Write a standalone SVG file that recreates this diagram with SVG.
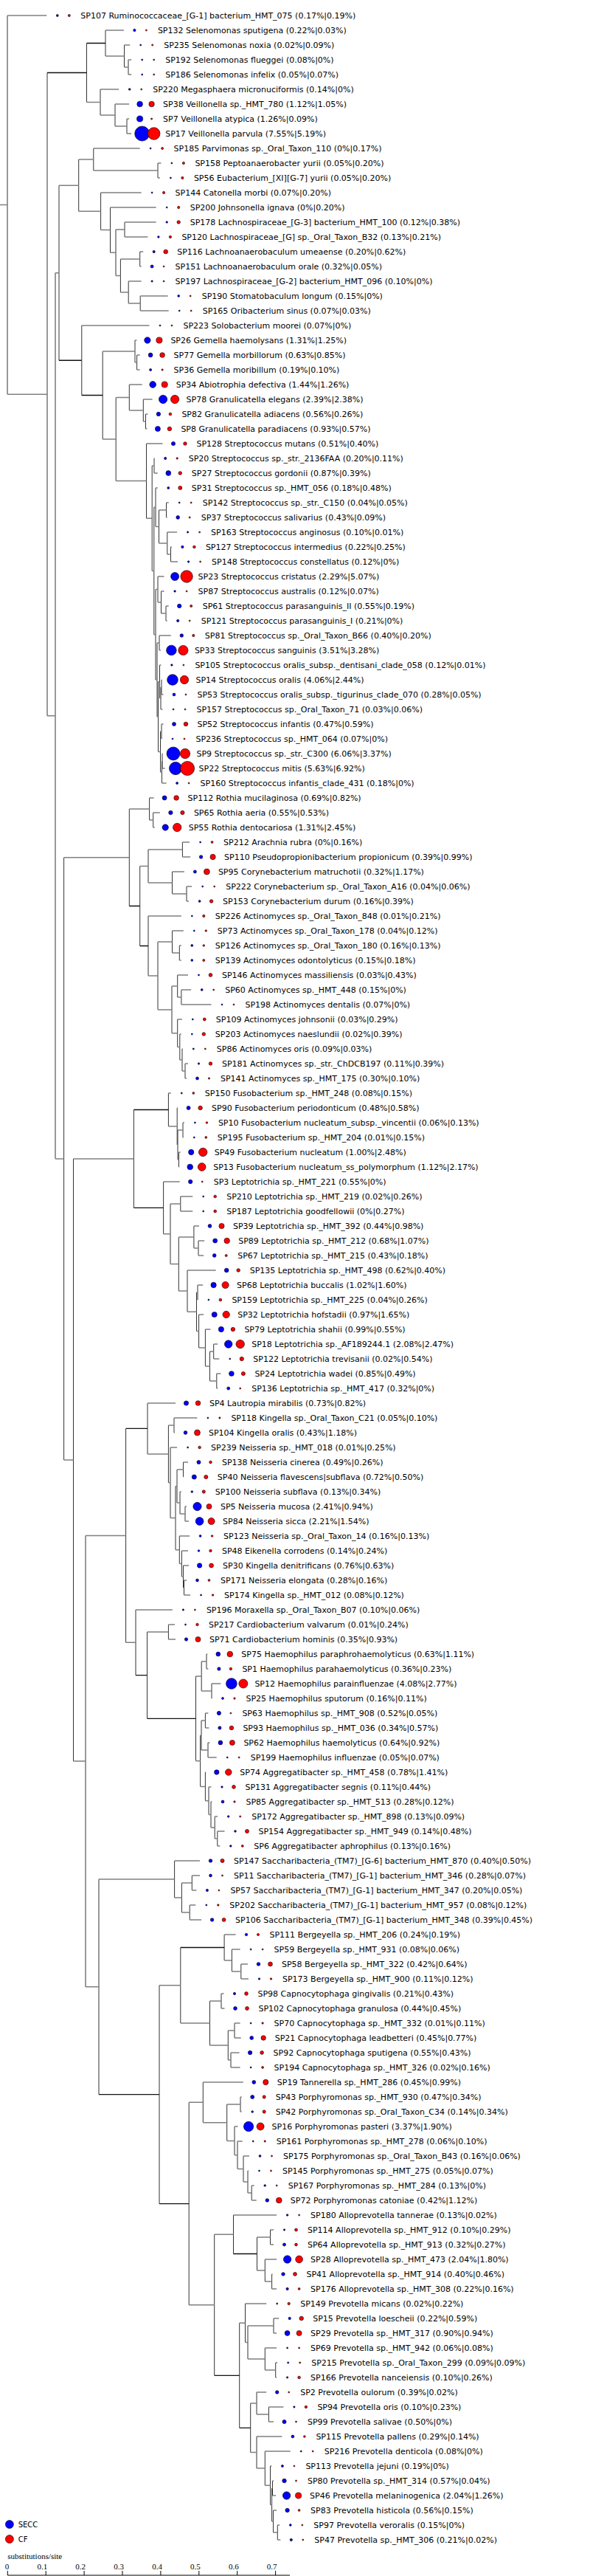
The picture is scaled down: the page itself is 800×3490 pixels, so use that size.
<svg xmlns="http://www.w3.org/2000/svg" width="800" height="3490" viewBox="0 0 800 3490">
<style>
.hz{fill:none;stroke:#808080;stroke-width:1.5}
.hk{fill:none;stroke:#111;stroke-width:1.3}
.vt{fill:none;stroke:#333;stroke-width:1}
.b{fill:#0000ff;stroke:#000;stroke-width:0.6}
.r{fill:#ff0000;stroke:#000;stroke-width:0.6}
text{font-family:"DejaVu Sans","Liberation Sans",sans-serif;font-size:11px;fill:#000}
.lg{font-size:10px}
.sc{font-family:"Liberation Serif","DejaVu Serif",serif;fill:#000}
</style>
<rect width="800" height="3490" fill="#fff"/>
<g id="connectors">
<path class="vt" d="M10 21V534.15M64 98.5V969.8M117.5 58.5V138.5M143 41V76M168.5 61V91M174 81V101M136 121V156M156 141V171M172 161V181M75 369.7V1569.9M80 251.2V488.25M106.7 216V286.3M126.8 201V231M214 221V241M136.6 261V311.6M149.5 281V342.25M157 311V373.5M169 301V321M163.4 351V396M189.7 341V361M174.2 381V411M190.2 401V421M110.8 441V535.5M139.2 476V595.05M183 461V491M185.6 481V501M157.2 538.5V651.6M175.3 521V556M194.3 541V571M197.5 561V581M198.5 601V702.25M206.2 631V773.5M209 621V641M208.8 687.25V859.75M211 661V713.5M215.5 691V736M225.5 681V701M226.8 721V751M231.5 741V761M211 798.5V921M214 781V816M218.5 801V831M225 821V841M213 871V971M216 861V881M214.5 923.5V1018.5M216.5 901V946M218 931V961M219 921V941M217.5 991V1046M219 981V1001M219.5 1031V1061M220 1021V1041M86.6 1161.75V1978M175.3 1096V1227.5M202.6 1081V1111M207.7 1101V1121M189.7 1173.5V1281.5M201 1151V1196M247.4 1141V1161M233.5 1181V1211M253 1201V1221M201 1241V1321.9M214 1276V1367.9M233.5 1261V1291M243.3 1281V1301M233 1336V1399.75M240.7 1321V1351M245.9 1341V1361M240.7 1381V1418.5M243.8 1401V1436M247 1421V1451M251 1441V1461M99.5 1569.95V2386.1M181.4 1503.5V1636.4M228.4 1481V1526M240.2 1501V1551M241 1531V1571M248 1521V1541M242.5 1561V1581M221.6 1601V1671.8M231 1631V1712.6M244.8 1621V1641M242.3 1676V1749.1M262.9 1661V1691M269 1681V1701M254 1721V1777.25M266.5 1751V1803.5M268 1741V1761M269.6 1781V1826M278.4 1801V1851M284.5 1831V1871M289.7 1821V1841M293.8 1861V1881M116 2080.4V2691.85M170.6 1935.45V2225.3M200 1901V1969.9M228.4 1931V2008.8M236 1921V1941M231 1961V2056.6M238 2013.5V2099.75M240 1991V2036M248.5 1981V2001M244 2021V2051M251 2041V2061M243.3 2081V2118.5M246.4 2101V2136M248.5 2121V2151M249.5 2141V2161M184 2181V2269.7M199.5 2211V2328.3M228.4 2201V2221M265.5 2271V2385.7M273.2 2251V2291M280 2241V2261M287 2281V2301M271.6 2351V2420.4M273 2331V2371M278.4 2321V2341M282 2361V2381M278.4 2401V2439.75M283 2421V2458.5M286 2441V2476M291.2 2461V2491M294.8 2481V2501M134 2546V2837.7M236.6 2521V2571M246.4 2551V2591M260.3 2541V2561M257.2 2581V2601M216 2689.75V2985.6M244.8 2638.5V2741M304.1 2621V2656M314.4 2641V2671M326.8 2661V2681M284.5 2711V2771M300 2701V2721M309.3 2751V2791M318 2741V2761M313 2781V2801M256.2 2848.35V3122.8M275.3 2821V2875.7M307.7 2851V2900.4M326 2841V2861M318 2881V2919.75M322 2901V2938.5M330 2921V2956M336 2941V2971M341.2 2961V2981M290.7 3027.25V3218.3M316.5 3001V3053.5M348.5 3031V3076M366.5 3021V3041M359.3 3061V3091M368.6 3081V3101M324.7 3147.25V3289.3M332.5 3121V3173.5M336 3151V3196M371 3141V3161M359.3 3181V3211M373.7 3201V3221M339.7 3256V3322.6M348 3241V3271M364.4 3261V3281M348 3301V3344.1M359.3 3321V3367.25M366.5 3341V3393.5M368.6 3371V3416M369.5 3361V3381M370.5 3401V3431M376.3 3421V3441"/>
<path class="hk" d="M64 98.5H117.5M117.5 58.5H143M80 488.25H110.8M110.8 535.5H139.2M175.3 1227.5H189.7M189.7 1281.5H201M181.4 1503.5H228.4M181.4 1636.4H221.6M170.6 1935.45H200M184 2269.7H199.5M199.5 2328.3H265.5M134 2837.7H216M216 2985.6H256.2M244.8 2638.5H304.1M290.7 3218.3H324.7M316.5 3053.5H348.5M324.7 3289.3H339.7"/>
<path class="hz" d="M0 277.6H10M10 21H63.3M10 534.15H64M64 969.8H75M117.5 138.5H136M143 41H167.9M143 76H168.5M168.5 61H176.2M168.5 91H174M174 81H178.2M174 101H178.2M136 121H161.2M136 156H156M156 141H175.1M156 171H172M172 161H175.1M172 181H178.2M75 369.7H80M75 1569.9H86.6M80 251.2H106.7M106.7 216H126.8M106.7 286.3H136.6M126.8 201H189.6M126.8 231H214M214 221H218.4M214 241H216.9M136.6 261H191.6M136.6 311.6H149.5M149.5 281H211.7M149.5 342.25H157M157 311H169M157 373.5H163.4M169 301H211.7M169 321H200.4M163.4 351H189.7M163.4 396H174.2M189.7 341H194.2M189.7 361H191.6M174.2 381H191.6M174.2 411H190.2M190.2 401H227.7M190.2 421H228.7M110.8 441H202.5M139.2 476H183M139.2 595.05H157.2M183 461H185.4M183 491H185.6M185.6 481H189.6M185.6 501H189.6M157.2 538.5H175.3M157.2 651.6H198.5M175.3 521H192.7M175.3 556H194.3M194.3 541H206.6M194.3 571H197.5M197.5 561H200.4M197.5 581H199.4M198.5 601H220.5M198.5 702.25H206.2M206.2 631H209M206.2 773.5H208.8M209 621H209.7M209 641H213.8M208.8 687.25H211M208.8 859.75H211M211 661H213.8M211 713.5H215.5M215.5 691H225.5M215.5 736H226.8M225.5 681H228.7M225.5 701H226.7M226.8 721H240.1M226.8 751H231.5M231.5 741H232.9M231.5 761H241.1M211 798.5H214M211 921H213M214 781H222.6M214 816H218.5M218.5 801H222.6M218.5 831H225M225 821H228.7M225 841H226.7M213 871H216M213 971H214.5M216 861H231.8M216 881H217.9M214.5 923.5H216.5M214.5 1018.5H217.5M216.5 901H218.4M216.5 946H218M218 931H219M218 961H220.5M219 921H219.5M219 941H221.5M217.5 991H219M217.5 1046H219.5M219 981H221.5M219 1001H219.5M219.5 1031H220M219.5 1061H225.6M220 1021H220.5M220 1041H223.6M86.6 1161.75H175.3M86.6 1978H99.5M175.3 1096H202.6M202.6 1081H208.6M202.6 1111H207.7M207.7 1101H216.9M207.7 1121H209.7M189.7 1173.5H201M201 1151H247.4M201 1196H233.5M247.4 1141H257.1M247.4 1161H258.1M233.5 1181H249.9M233.5 1211H253M253 1201H260.2M253 1221H256.1M201 1241H245.8M201 1321.9H214M214 1276H233.5M214 1367.9H233M233.5 1261H248.8M233.5 1291H243.3M243.3 1281H245.8M243.3 1301H245.8M233 1336H240.7M233 1399.75H240.7M240.7 1321H255M240.7 1351H245.9M245.9 1341H259.2M245.9 1361H286.5M240.7 1381H246.8M240.7 1418.5H243.8M243.8 1401H245.8M243.8 1436H247M247 1421H247.8M247 1451H251M251 1441H255M251 1461H253M99.5 1569.95H181.4M99.5 2386.1H116M228.4 1481H231.8M228.4 1526H240.2M240.2 1501H241.1M240.2 1551H241M241 1531H248M241 1571H242.5M248 1521H249.9M248 1541H248.8M242.5 1561H244.7M242.5 1581H243.2M221.6 1601H243.7M221.6 1671.8H231M231 1631H244.8M231 1712.6H242.3M244.8 1621H261.2M244.8 1641H261.2M242.3 1676H262.9M242.3 1749.1H254M262.9 1661H270M262.9 1691H269M269 1681H277.2M269 1701H276.2M254 1721H292.7M254 1777.25H266.5M266.5 1751H268M266.5 1803.5H269.6M268 1741H275.1M268 1761H268.4M269.6 1781H276.2M269.6 1826H278.4M278.4 1801H285.4M278.4 1851H284.5M284.5 1831H289.7M284.5 1871H293.8M289.7 1821H295.2M289.7 1841H297.3M293.8 1861H299.4M293.8 1881H295.2M116 2080.4H170.6M116 2691.85H134M170.6 2225.3H184M200 1901H238M200 1969.9H228.4M228.4 1931H236M228.4 2008.8H231M236 1921H267.4M236 1941H237M231 1961H240.1M231 2056.6H238M238 2013.5H240M238 2099.75H243.3M240 1991H248.5M240 2036H244M248.5 1981H255M248.5 2001H248.8M244 2021H245.8M244 2051H251M251 2041H253M251 2061H256.1M243.3 2081H257.1M243.3 2118.5H246.4M246.4 2101H255M246.4 2136H248.5M248.5 2121H256.1M248.5 2151H249.5M249.5 2141H253M249.5 2161H258.1M184 2181H233.9M199.5 2211H228.4M228.4 2201H237M228.4 2221H238M265.5 2271H273.2M265.5 2385.7H271.6M273.2 2251H280M273.2 2291H287M280 2241H281.3M280 2261H282.4M287 2281H299.4M287 2301H287.5M271.6 2351H273M271.6 2420.4H278.4M273 2331H278.4M273 2371H282M278.4 2321H282.4M278.4 2341H283.4M282 2361H284.4M282 2381H293.7M278.4 2401H279.3M278.4 2439.75H283M283 2421H286.5M283 2458.5H286M286 2441H287.5M286 2476H291.2M291.2 2461H295.2M291.2 2491H294.8M294.8 2481H304.5M294.8 2501H298.3M134 2546H236.6M236.6 2521H271M236.6 2571H246.4M246.4 2551H260.3M246.4 2591H257.2M260.3 2541H271M260.3 2561H266.4M257.2 2581H265.3M257.2 2601H273.1M216 2689.75H244.8M244.8 2741H284.5M304.1 2621H319.5M304.1 2656H314.4M314.4 2641H325.6M314.4 2671H326.8M326.8 2661H336M326.8 2681H337M284.5 2711H300M284.5 2771H309.3M300 2701H303.5M300 2721H304.5M309.3 2751H318M309.3 2791H313M318 2741H325.6M318 2761H326.7M313 2781H324.6M313 2801H325.6M256.2 2848.35H275.3M256.2 3122.8H290.7M275.3 2821H329.8M275.3 2875.7H307.7M307.7 2851H326M307.7 2900.4H318M326 2841H327.7M326 2861H327.7M318 2881H322.6M318 2919.75H322M322 2901H328.7M322 2938.5H330M330 2921H338M330 2956H336M336 2941H337M336 2971H341.2M341.2 2961H344.7M341.2 2981H347.8M290.7 3027.25H316.5M316.5 3001H375.1M348.5 3031H366.5M348.5 3076H359.3M366.5 3021H371M366.5 3041H371M359.3 3061H375.1M359.3 3091H368.6M368.6 3081H369.5M368.6 3101H375.1M324.7 3147.25H332.5M332.5 3121H361.2M332.5 3173.5H336M336 3151H371M336 3196H359.3M371 3141H378.2M371 3161H375.1M359.3 3181H375.1M359.3 3211H373.7M373.7 3201H376.2M373.7 3221H375.1M339.7 3256H348M339.7 3322.6H348M348 3241H361.2M348 3271H364.4M364.4 3261H384.4M364.4 3281H371M348 3301H382.4M348 3344.1H359.3M359.3 3321H393.7M359.3 3367.25H366.5M366.5 3341H368.4M366.5 3393.5H368.6M368.6 3371H369.5M368.6 3416H370.5M369.5 3361H371M369.5 3381H374.1M370.5 3401H375.1M370.5 3431H376.3M376.3 3421H379.3M376.3 3441H380.3"/>
</g>
<g id="leaves">
<g id="SP107"><circle class="b" cx="77.8" cy="21" r="1.5"/><circle class="r" cx="93.8" cy="21" r="1.59"/><text x="109.3" y="25">SP107 Ruminococcaceae_[G-1] bacterium_HMT_075 (0.17%|0.19%)</text></g>
<g id="SP132"><circle class="b" cx="182.4" cy="41" r="1.71"/><circle class="r" cx="198.4" cy="41" r="1"/><text x="213.9" y="45">SP132 Selenomonas sputigena (0.22%|0.03%)</text></g>
<g id="SP235"><circle class="b" cx="190.7" cy="61" r="1"/><circle class="r" cx="206.7" cy="61" r="1.1"/><text x="222.2" y="65">SP235 Selenomonas noxia (0.02%|0.09%)</text></g>
<g id="SP192"><circle class="b" cx="192.7" cy="81" r="1.03"/><circle class="r" cx="208.7" cy="81" r="1"/><text x="224.2" y="85">SP192 Selenomonas flueggei (0.08%|0%)</text></g>
<g id="SP186"><circle class="b" cx="192.7" cy="101" r="1"/><circle class="r" cx="208.7" cy="101" r="1"/><text x="224.2" y="105">SP186 Selenomonas infelix (0.05%|0.07%)</text></g>
<g id="SP220"><circle class="b" cx="175.7" cy="121" r="1.37"/><circle class="r" cx="191.7" cy="121" r="1"/><text x="207.2" y="125">SP220 Megasphaera micronuciformis (0.14%|0%)</text></g>
<g id="SP38"><circle class="b" cx="189.6" cy="141" r="3.86"/><circle class="r" cx="205.6" cy="141" r="3.74"/><text x="221.1" y="145">SP38 Veillonella sp._HMT_780 (1.12%|1.05%)</text></g>
<g id="SP7"><circle class="b" cx="189.6" cy="161" r="4.1"/><circle class="r" cx="205.6" cy="161" r="1.1"/><text x="221.1" y="165">SP7 Veillonella atypica (1.26%|0.09%)</text></g>
<g id="SP17"><circle class="b" cx="192.7" cy="181" r="10.03"/><circle class="r" cx="208.7" cy="181" r="8.32"/><text x="224.2" y="185">SP17 Veillonella parvula (7.55%|5.19%)</text></g>
<g id="SP185"><circle class="b" cx="204.1" cy="201" r="1"/><circle class="r" cx="220.1" cy="201" r="1.5"/><text x="235.6" y="205">SP185 Parvimonas sp._Oral_Taxon_110 (0%|0.17%)</text></g>
<g id="SP158"><circle class="b" cx="232.9" cy="221" r="1"/><circle class="r" cx="248.9" cy="221" r="1.63"/><text x="264.4" y="225">SP158 Peptoanaerobacter yurii (0.05%|0.20%)</text></g>
<g id="SP56"><circle class="b" cx="231.4" cy="241" r="1"/><circle class="r" cx="247.4" cy="241" r="1.63"/><text x="262.9" y="245">SP56 Eubacterium_[XI][G-7] yurii (0.05%|0.20%)</text></g>
<g id="SP144"><circle class="b" cx="206.1" cy="261" r="1"/><circle class="r" cx="222.1" cy="261" r="1.63"/><text x="237.6" y="265">SP144 Catonella morbi (0.07%|0.20%)</text></g>
<g id="SP200"><circle class="b" cx="226.2" cy="281" r="1"/><circle class="r" cx="242.2" cy="281" r="1.63"/><text x="257.7" y="285">SP200 Johnsonella ignava (0%|0.20%)</text></g>
<g id="SP178"><circle class="b" cx="226.2" cy="301" r="1.26"/><circle class="r" cx="242.2" cy="301" r="2.25"/><text x="257.7" y="305">SP178 Lachnospiraceae_[G-3] bacterium_HMT_100 (0.12%|0.38%)</text></g>
<g id="SP120"><circle class="b" cx="214.9" cy="321" r="1.32"/><circle class="r" cx="230.9" cy="321" r="1.67"/><text x="246.4" y="325">SP120 Lachnospiraceae_[G] sp._Oral_Taxon_B32 (0.13%|0.21%)</text></g>
<g id="SP116"><circle class="b" cx="208.7" cy="341" r="1.63"/><circle class="r" cx="224.7" cy="341" r="2.87"/><text x="240.2" y="345">SP116 Lachnoanaerobaculum umeaense (0.20%|0.62%)</text></g>
<g id="SP151"><circle class="b" cx="206.1" cy="361" r="2.06"/><circle class="r" cx="222.1" cy="361" r="1"/><text x="237.6" y="365">SP151 Lachnoanaerobaculum orale (0.32%|0.05%)</text></g>
<g id="SP197"><circle class="b" cx="206.1" cy="381" r="1.15"/><circle class="r" cx="222.1" cy="381" r="1"/><text x="237.6" y="385">SP197 Lachnospiraceae_[G-2] bacterium_HMT_096 (0.10%|0%)</text></g>
<g id="SP190"><circle class="b" cx="242.2" cy="401" r="1.41"/><circle class="r" cx="258.2" cy="401" r="1"/><text x="273.7" y="405">SP190 Stomatobaculum longum (0.15%|0%)</text></g>
<g id="SP165"><circle class="b" cx="243.2" cy="421" r="1"/><circle class="r" cx="259.2" cy="421" r="1"/><text x="274.7" y="425">SP165 Oribacterium sinus (0.07%|0.03%)</text></g>
<g id="SP223"><circle class="b" cx="217" cy="441" r="1"/><circle class="r" cx="233" cy="441" r="1"/><text x="248.5" y="445">SP223 Solobacterium moorei (0.07%|0%)</text></g>
<g id="SP26"><circle class="b" cx="199.9" cy="461" r="4.18"/><circle class="r" cx="215.9" cy="461" r="4.08"/><text x="231.4" y="465">SP26 Gemella haemolysans (1.31%|1.25%)</text></g>
<g id="SP77"><circle class="b" cx="204.1" cy="481" r="2.9"/><circle class="r" cx="220.1" cy="481" r="3.37"/><text x="235.6" y="485">SP77 Gemella morbillorum (0.63%|0.85%)</text></g>
<g id="SP36"><circle class="b" cx="204.1" cy="501" r="1.59"/><circle class="r" cx="220.1" cy="501" r="1.15"/><text x="235.6" y="505">SP36 Gemella moribillum (0.19%|0.10%)</text></g>
<g id="SP34"><circle class="b" cx="207.2" cy="521" r="4.38"/><circle class="r" cx="223.2" cy="521" r="4.1"/><text x="238.7" y="525">SP34 Abiotrophia defectiva (1.44%|1.26%)</text></g>
<g id="SP78"><circle class="b" cx="221.1" cy="541" r="5.64"/><circle class="r" cx="237.1" cy="541" r="5.63"/><text x="252.6" y="545">SP78 Granulicatella elegans (2.39%|2.38%)</text></g>
<g id="SP82"><circle class="b" cx="214.9" cy="561" r="2.73"/><circle class="r" cx="230.9" cy="561" r="1.86"/><text x="246.4" y="565">SP82 Granulicatella adiacens (0.56%|0.26%)</text></g>
<g id="SP8"><circle class="b" cx="213.9" cy="581" r="3.52"/><circle class="r" cx="229.9" cy="581" r="2.76"/><text x="245.4" y="585">SP8 Granulicatella paradiacens (0.93%|0.57%)</text></g>
<g id="SP128"><circle class="b" cx="235" cy="601" r="2.61"/><circle class="r" cx="251" cy="601" r="2.31"/><text x="266.5" y="605">SP128 Streptococcus mutans (0.51%|0.40%)</text></g>
<g id="SP20"><circle class="b" cx="224.2" cy="621" r="1.63"/><circle class="r" cx="240.2" cy="621" r="1.21"/><text x="255.7" y="625">SP20 Streptococcus sp._str._2136FAA (0.20%|0.11%)</text></g>
<g id="SP27"><circle class="b" cx="228.3" cy="641" r="3.4"/><circle class="r" cx="244.3" cy="641" r="2.28"/><text x="259.8" y="645">SP27 Streptococcus gordonii (0.87%|0.39%)</text></g>
<g id="SP31"><circle class="b" cx="228.3" cy="661" r="1.55"/><circle class="r" cx="244.3" cy="661" r="2.53"/><text x="259.8" y="665">SP31 Streptococcus sp._HMT_056 (0.18%|0.48%)</text></g>
<g id="SP142"><circle class="b" cx="243.2" cy="681" r="1"/><circle class="r" cx="259.2" cy="681" r="1"/><text x="274.7" y="685">SP142 Streptococcus sp._str._C150 (0.04%|0.05%)</text></g>
<g id="SP37"><circle class="b" cx="241.2" cy="701" r="2.39"/><circle class="r" cx="257.2" cy="701" r="1.1"/><text x="272.7" y="705">SP37 Streptococcus salivarius (0.43%|0.09%)</text></g>
<g id="SP163"><circle class="b" cx="254.6" cy="721" r="1.15"/><circle class="r" cx="270.6" cy="721" r="1"/><text x="286.1" y="725">SP163 Streptococcus anginosus (0.10%|0.01%)</text></g>
<g id="SP127"><circle class="b" cx="247.4" cy="741" r="1.71"/><circle class="r" cx="263.4" cy="741" r="1.83"/><text x="278.9" y="745">SP127 Streptococcus intermedius (0.22%|0.25%)</text></g>
<g id="SP148"><circle class="b" cx="255.6" cy="761" r="1.26"/><circle class="r" cx="271.6" cy="761" r="1"/><text x="287.1" y="765">SP148 Streptococcus constellatus (0.12%|0%)</text></g>
<g id="SP23"><circle class="b" cx="237.1" cy="781" r="5.52"/><circle class="r" cx="253.1" cy="781" r="8.22"/><text x="268.6" y="785">SP23 Streptococcus cristatus (2.29%|5.07%)</text></g>
<g id="SP87"><circle class="b" cx="237.1" cy="801" r="1.26"/><circle class="r" cx="253.1" cy="801" r="1"/><text x="268.6" y="805">SP87 Streptococcus australis (0.12%|0.07%)</text></g>
<g id="SP61"><circle class="b" cx="243.2" cy="821" r="2.71"/><circle class="r" cx="259.2" cy="821" r="1.59"/><text x="274.7" y="825">SP61 Streptococcus parasanguinis_II (0.55%|0.19%)</text></g>
<g id="SP121"><circle class="b" cx="241.2" cy="841" r="1.67"/><circle class="r" cx="257.2" cy="841" r="1"/><text x="272.7" y="845">SP121 Streptococcus parasanguinis_I (0.21%|0%)</text></g>
<g id="SP81"><circle class="b" cx="246.3" cy="861" r="2.31"/><circle class="r" cx="262.3" cy="861" r="1.63"/><text x="277.8" y="865">SP81 Streptococcus sp._Oral_Taxon_B66 (0.40%|0.20%)</text></g>
<g id="SP33"><circle class="b" cx="232.4" cy="881" r="6.84"/><circle class="r" cx="248.4" cy="881" r="6.61"/><text x="263.9" y="885">SP33 Streptococcus sanguinis (3.51%|3.28%)</text></g>
<g id="SP105"><circle class="b" cx="232.9" cy="901" r="1.26"/><circle class="r" cx="248.9" cy="901" r="1"/><text x="264.4" y="905">SP105 Streptococcus oralis_subsp._dentisani_clade_058 (0.12%|0.01%)</text></g>
<g id="SP14"><circle class="b" cx="234" cy="921" r="7.35"/><circle class="r" cx="250" cy="921" r="5.7"/><text x="265.5" y="925">SP14 Streptococcus oralis (4.06%|2.44%)</text></g>
<g id="SP53"><circle class="b" cx="236" cy="941" r="1.93"/><circle class="r" cx="252" cy="941" r="1"/><text x="267.5" y="945">SP53 Streptococcus oralis_subsp._tigurinus_clade_070 (0.28%|0.05%)</text></g>
<g id="SP157"><circle class="b" cx="235" cy="961" r="1"/><circle class="r" cx="251" cy="961" r="1"/><text x="266.5" y="965">SP157 Streptococcus sp._Oral_Taxon_71 (0.03%|0.06%)</text></g>
<g id="SP52"><circle class="b" cx="236" cy="981" r="2.5"/><circle class="r" cx="252" cy="981" r="2.8"/><text x="267.5" y="985">SP52 Streptococcus infantis (0.47%|0.59%)</text></g>
<g id="SP236"><circle class="b" cx="234" cy="1001" r="1"/><circle class="r" cx="250" cy="1001" r="1"/><text x="265.5" y="1005">SP236 Streptococcus sp._HMT_064 (0.07%|0%)</text></g>
<g id="SP9"><circle class="b" cx="235" cy="1021" r="8.99"/><circle class="r" cx="251" cy="1021" r="6.7"/><text x="266.5" y="1025">SP9 Streptococcus sp._str._C300 (6.06%|3.37%)</text></g>
<g id="SP22"><circle class="b" cx="238.1" cy="1041" r="8.66"/><circle class="r" cx="254.1" cy="1041" r="9.6"/><text x="269.6" y="1045">SP22 Streptococcus mitis (5.63%|6.92%)</text></g>
<g id="SP160"><circle class="b" cx="240.1" cy="1061" r="1.55"/><circle class="r" cx="256.1" cy="1061" r="1"/><text x="271.6" y="1065">SP160 Streptococcus infantis_clade_431 (0.18%|0%)</text></g>
<g id="SP112"><circle class="b" cx="223.1" cy="1081" r="3.03"/><circle class="r" cx="239.1" cy="1081" r="3.31"/><text x="254.6" y="1085">SP112 Rothia mucilaginosa (0.69%|0.82%)</text></g>
<g id="SP65"><circle class="b" cx="231.4" cy="1101" r="2.71"/><circle class="r" cx="247.4" cy="1101" r="2.66"/><text x="262.9" y="1105">SP65 Rothia aeria (0.55%|0.53%)</text></g>
<g id="SP55"><circle class="b" cx="224.2" cy="1121" r="4.18"/><circle class="r" cx="240.2" cy="1121" r="5.71"/><text x="255.7" y="1125">SP55 Rothia dentocariosa (1.31%|2.45%)</text></g>
<g id="SP212"><circle class="b" cx="271.6" cy="1141" r="1"/><circle class="r" cx="287.6" cy="1141" r="1.46"/><text x="303.1" y="1145">SP212 Arachnia rubra (0%|0.16%)</text></g>
<g id="SP110"><circle class="b" cx="272.6" cy="1161" r="2.28"/><circle class="r" cx="288.6" cy="1161" r="3.63"/><text x="304.1" y="1165">SP110 Pseudopropionibacterium propionicum (0.39%|0.99%)</text></g>
<g id="SP95"><circle class="b" cx="264.4" cy="1181" r="2.06"/><circle class="r" cx="280.4" cy="1181" r="3.95"/><text x="295.9" y="1185">SP95 Corynebacterium matruchotii (0.32%|1.17%)</text></g>
<g id="SP222"><circle class="b" cx="274.7" cy="1201" r="1"/><circle class="r" cx="290.7" cy="1201" r="1"/><text x="306.2" y="1205">SP222 Corynebacterium sp._Oral_Taxon_A16 (0.04%|0.06%)</text></g>
<g id="SP153"><circle class="b" cx="270.6" cy="1221" r="1.46"/><circle class="r" cx="286.6" cy="1221" r="2.28"/><text x="302.1" y="1225">SP153 Corynebacterium durum (0.16%|0.39%)</text></g>
<g id="SP226"><circle class="b" cx="260.3" cy="1241" r="1"/><circle class="r" cx="276.3" cy="1241" r="1.67"/><text x="291.8" y="1245">SP226 Actinomyces sp._Oral_Taxon_848 (0.01%|0.21%)</text></g>
<g id="SP73"><circle class="b" cx="263.3" cy="1261" r="1"/><circle class="r" cx="279.3" cy="1261" r="1.26"/><text x="294.8" y="1265">SP73 Actinomyces sp._Oral_Taxon_178 (0.04%|0.12%)</text></g>
<g id="SP126"><circle class="b" cx="260.3" cy="1281" r="1.46"/><circle class="r" cx="276.3" cy="1281" r="1.32"/><text x="291.8" y="1285">SP126 Actinomyces sp._Oral_Taxon_180 (0.16%|0.13%)</text></g>
<g id="SP139"><circle class="b" cx="260.3" cy="1301" r="1.41"/><circle class="r" cx="276.3" cy="1301" r="1.55"/><text x="291.8" y="1305">SP139 Actinomyces odontolyticus (0.15%|0.18%)</text></g>
<g id="SP146"><circle class="b" cx="269.5" cy="1321" r="1"/><circle class="r" cx="285.5" cy="1321" r="2.39"/><text x="301" y="1325">SP146 Actinomyces massiliensis (0.03%|0.43%)</text></g>
<g id="SP60"><circle class="b" cx="273.7" cy="1341" r="1.41"/><circle class="r" cx="289.7" cy="1341" r="1"/><text x="305.2" y="1345">SP60 Actinomyces sp._HMT_448 (0.15%|0%)</text></g>
<g id="SP198"><circle class="b" cx="301" cy="1361" r="1"/><circle class="r" cx="317" cy="1361" r="1"/><text x="332.5" y="1365">SP198 Actinomyces dentalis (0.07%|0%)</text></g>
<g id="SP109"><circle class="b" cx="261.3" cy="1381" r="1"/><circle class="r" cx="277.3" cy="1381" r="1.97"/><text x="292.8" y="1385">SP109 Actinomyces johnsonii (0.03%|0.29%)</text></g>
<g id="SP203"><circle class="b" cx="260.3" cy="1401" r="1"/><circle class="r" cx="276.3" cy="1401" r="2.28"/><text x="291.8" y="1405">SP203 Actinomyces naeslundii (0.02%|0.39%)</text></g>
<g id="SP86"><circle class="b" cx="262.3" cy="1421" r="1.1"/><circle class="r" cx="278.3" cy="1421" r="1"/><text x="293.8" y="1425">SP86 Actinomyces oris (0.09%|0.03%)</text></g>
<g id="SP181"><circle class="b" cx="269.5" cy="1441" r="1.21"/><circle class="r" cx="285.5" cy="1441" r="2.28"/><text x="301" y="1445">SP181 Actinomyces sp._str._ChDCB197 (0.11%|0.39%)</text></g>
<g id="SP141"><circle class="b" cx="267.5" cy="1461" r="2"/><circle class="r" cx="283.5" cy="1461" r="1.15"/><text x="299" y="1465">SP141 Actinomyces sp._HMT_175 (0.30%|0.10%)</text></g>
<g id="SP150"><circle class="b" cx="246.3" cy="1481" r="1.03"/><circle class="r" cx="262.3" cy="1481" r="1.41"/><text x="277.8" y="1485">SP150 Fusobacterium sp._HMT_248 (0.08%|0.15%)</text></g>
<g id="SP90"><circle class="b" cx="255.6" cy="1501" r="2.53"/><circle class="r" cx="271.6" cy="1501" r="2.78"/><text x="287.1" y="1505">SP90 Fusobacterium periodonticum (0.48%|0.58%)</text></g>
<g id="SP10"><circle class="b" cx="264.4" cy="1521" r="1"/><circle class="r" cx="280.4" cy="1521" r="1.32"/><text x="295.9" y="1525">SP10 Fusobacterium nucleatum_subsp._vincentii (0.06%|0.13%)</text></g>
<g id="SP195"><circle class="b" cx="263.3" cy="1541" r="1"/><circle class="r" cx="279.3" cy="1541" r="1.41"/><text x="294.8" y="1545">SP195 Fusobacterium sp._HMT_204 (0.01%|0.15%)</text></g>
<g id="SP49"><circle class="b" cx="259.2" cy="1561" r="3.65"/><circle class="r" cx="275.2" cy="1561" r="5.75"/><text x="290.7" y="1565">SP49 Fusobacterium nucleatum (1.00%|2.48%)</text></g>
<g id="SP13"><circle class="b" cx="257.7" cy="1581" r="3.86"/><circle class="r" cx="273.7" cy="1581" r="5.38"/><text x="289.2" y="1585">SP13 Fusobacterium nucleatum_ss_polymorphum (1.12%|2.17%)</text></g>
<g id="SP3"><circle class="b" cx="258.2" cy="1601" r="2.71"/><circle class="r" cx="274.2" cy="1601" r="1"/><text x="289.7" y="1605">SP3 Leptotrichia sp._HMT_221 (0.55%|0%)</text></g>
<g id="SP210"><circle class="b" cx="275.7" cy="1621" r="1"/><circle class="r" cx="291.7" cy="1621" r="1.86"/><text x="307.2" y="1625">SP210 Leptotrichia sp._HMT_219 (0.02%|0.26%)</text></g>
<g id="SP187"><circle class="b" cx="275.7" cy="1641" r="1"/><circle class="r" cx="291.7" cy="1641" r="1.9"/><text x="307.2" y="1645">SP187 Leptotrichia goodfellowii (0%|0.27%)</text></g>
<g id="SP39"><circle class="b" cx="284.5" cy="1661" r="2.42"/><circle class="r" cx="300.5" cy="1661" r="3.61"/><text x="316" y="1665">SP39 Leptotrichia sp._HMT_392 (0.44%|0.98%)</text></g>
<g id="SP89"><circle class="b" cx="291.7" cy="1681" r="3.01"/><circle class="r" cx="307.7" cy="1681" r="3.78"/><text x="323.2" y="1685">SP89 Leptotrichia sp._HMT_212 (0.68%|1.07%)</text></g>
<g id="SP67"><circle class="b" cx="290.7" cy="1701" r="2.39"/><circle class="r" cx="306.7" cy="1701" r="1.55"/><text x="322.2" y="1705">SP67 Leptotrichia sp._HMT_215 (0.43%|0.18%)</text></g>
<g id="SP135"><circle class="b" cx="307.2" cy="1721" r="2.87"/><circle class="r" cx="323.2" cy="1721" r="2.31"/><text x="338.7" y="1725">SP135 Leptotrichia sp._HMT_498 (0.62%|0.40%)</text></g>
<g id="SP68"><circle class="b" cx="289.6" cy="1741" r="3.69"/><circle class="r" cx="305.6" cy="1741" r="4.62"/><text x="321.1" y="1745">SP68 Leptotrichia buccalis (1.02%|1.60%)</text></g>
<g id="SP159"><circle class="b" cx="282.9" cy="1761" r="1"/><circle class="r" cx="298.9" cy="1761" r="1.86"/><text x="314.4" y="1765">SP159 Leptotrichia sp._HMT_225 (0.04%|0.26%)</text></g>
<g id="SP32"><circle class="b" cx="290.7" cy="1781" r="3.59"/><circle class="r" cx="306.7" cy="1781" r="4.69"/><text x="322.2" y="1785">SP32 Leptotrichia hofstadii (0.97%|1.65%)</text></g>
<g id="SP79"><circle class="b" cx="299.9" cy="1801" r="3.63"/><circle class="r" cx="315.9" cy="1801" r="2.71"/><text x="331.4" y="1805">SP79 Leptotrichia shahii (0.99%|0.55%)</text></g>
<g id="SP18"><circle class="b" cx="309.7" cy="1821" r="5.26"/><circle class="r" cx="325.7" cy="1821" r="5.74"/><text x="341.2" y="1825">SP18 Leptotrichia sp._AF189244.1 (2.08%|2.47%)</text></g>
<g id="SP122"><circle class="b" cx="311.8" cy="1841" r="1"/><circle class="r" cx="327.8" cy="1841" r="2.68"/><text x="343.3" y="1845">SP122 Leptotrichia trevisanii (0.02%|0.54%)</text></g>
<g id="SP24"><circle class="b" cx="313.9" cy="1861" r="3.37"/><circle class="r" cx="329.9" cy="1861" r="2.56"/><text x="345.4" y="1865">SP24 Leptotrichia wadei (0.85%|0.49%)</text></g>
<g id="SP136"><circle class="b" cx="309.7" cy="1881" r="2.06"/><circle class="r" cx="325.7" cy="1881" r="1"/><text x="341.2" y="1885">SP136 Leptotrichia sp._HMT_417 (0.32%|0%)</text></g>
<g id="SP4"><circle class="b" cx="252.5" cy="1901" r="3.12"/><circle class="r" cx="268.5" cy="1901" r="3.31"/><text x="284" y="1905">SP4 Lautropia mirabilis (0.73%|0.82%)</text></g>
<g id="SP118"><circle class="b" cx="281.9" cy="1921" r="1"/><circle class="r" cx="297.9" cy="1921" r="1.15"/><text x="313.4" y="1925">SP118 Kingella sp._Oral_Taxon_C21 (0.05%|0.10%)</text></g>
<g id="SP104"><circle class="b" cx="251.5" cy="1941" r="2.39"/><circle class="r" cx="267.5" cy="1941" r="3.96"/><text x="283" y="1945">SP104 Kingella oralis (0.43%|1.18%)</text></g>
<g id="SP239"><circle class="b" cx="254.6" cy="1961" r="1"/><circle class="r" cx="270.6" cy="1961" r="1.83"/><text x="286.1" y="1965">SP239 Neisseria sp._HMT_018 (0.01%|0.25%)</text></g>
<g id="SP138"><circle class="b" cx="269.5" cy="1981" r="2.56"/><circle class="r" cx="285.5" cy="1981" r="1.86"/><text x="301" y="1985">SP138 Neisseria cinerea (0.49%|0.26%)</text></g>
<g id="SP40"><circle class="b" cx="263.3" cy="2001" r="3.1"/><circle class="r" cx="279.3" cy="2001" r="2.58"/><text x="294.8" y="2005">SP40 Neisseria flavescens|subflava (0.72%|0.50%)</text></g>
<g id="SP100"><circle class="b" cx="260.3" cy="2021" r="1.32"/><circle class="r" cx="276.3" cy="2021" r="2.13"/><text x="291.8" y="2025">SP100 Neisseria subflava (0.13%|0.34%)</text></g>
<g id="SP5"><circle class="b" cx="267.5" cy="2041" r="5.67"/><circle class="r" cx="283.5" cy="2041" r="3.54"/><text x="299" y="2045">SP5 Neisseria mucosa (2.41%|0.94%)</text></g>
<g id="SP84"><circle class="b" cx="270.6" cy="2061" r="5.43"/><circle class="r" cx="286.6" cy="2061" r="4.53"/><text x="302.1" y="2065">SP84 Neisseria sicca (2.21%|1.54%)</text></g>
<g id="SP123"><circle class="b" cx="271.6" cy="2081" r="1.46"/><circle class="r" cx="287.6" cy="2081" r="1.32"/><text x="303.1" y="2085">SP123 Neisseria sp._Oral_Taxon_14 (0.16%|0.13%)</text></g>
<g id="SP48"><circle class="b" cx="269.5" cy="2101" r="1.37"/><circle class="r" cx="285.5" cy="2101" r="1.79"/><text x="301" y="2105">SP48 Eikenella corrodens (0.14%|0.24%)</text></g>
<g id="SP30"><circle class="b" cx="270.6" cy="2121" r="3.18"/><circle class="r" cx="286.6" cy="2121" r="2.9"/><text x="302.1" y="2125">SP30 Kingella denitrificans (0.76%|0.63%)</text></g>
<g id="SP171"><circle class="b" cx="267.5" cy="2141" r="1.93"/><circle class="r" cx="283.5" cy="2141" r="1.46"/><text x="299" y="2145">SP171 Neisseria elongata (0.28%|0.16%)</text></g>
<g id="SP174"><circle class="b" cx="272.6" cy="2161" r="1.03"/><circle class="r" cx="288.6" cy="2161" r="1.26"/><text x="304.1" y="2165">SP174 Kingella sp._HMT_012 (0.08%|0.12%)</text></g>
<g id="SP196"><circle class="b" cx="248.4" cy="2181" r="1.15"/><circle class="r" cx="264.4" cy="2181" r="1"/><text x="279.9" y="2185">SP196 Moraxella sp._Oral_Taxon_B07 (0.10%|0.06%)</text></g>
<g id="SP217"><circle class="b" cx="251.5" cy="2201" r="1"/><circle class="r" cx="267.5" cy="2201" r="1.79"/><text x="283" y="2205">SP217 Cardiobacterium valvarum (0.01%|0.24%)</text></g>
<g id="SP71"><circle class="b" cx="252.5" cy="2221" r="2.16"/><circle class="r" cx="268.5" cy="2221" r="3.52"/><text x="284" y="2225">SP71 Cardiobacterium hominis (0.35%|0.93%)</text></g>
<g id="SP75"><circle class="b" cx="295.8" cy="2241" r="2.9"/><circle class="r" cx="311.8" cy="2241" r="3.85"/><text x="327.3" y="2245">SP75 Haemophilus paraphrohaemolyticus (0.63%|1.11%)</text></g>
<g id="SP1"><circle class="b" cx="296.9" cy="2261" r="2.19"/><circle class="r" cx="312.9" cy="2261" r="1.75"/><text x="328.4" y="2265">SP1 Haemophilus parahaemolyticus (0.36%|0.23%)</text></g>
<g id="SP12"><circle class="b" cx="313.9" cy="2281" r="7.37"/><circle class="r" cx="329.9" cy="2281" r="6.07"/><text x="345.4" y="2285">SP12 Haemophilus parainfluenzae (4.08%|2.77%)</text></g>
<g id="SP25"><circle class="b" cx="302" cy="2301" r="1.46"/><circle class="r" cx="318" cy="2301" r="1.21"/><text x="333.5" y="2305">SP25 Haemophilus sputorum (0.16%|0.11%)</text></g>
<g id="SP63"><circle class="b" cx="296.9" cy="2321" r="2.63"/><circle class="r" cx="312.9" cy="2321" r="1"/><text x="328.4" y="2325">SP63 Haemophilus sp._HMT_908 (0.52%|0.05%)</text></g>
<g id="SP93"><circle class="b" cx="297.9" cy="2341" r="2.13"/><circle class="r" cx="313.9" cy="2341" r="2.76"/><text x="329.4" y="2345">SP93 Haemophilus sp._HMT_036 (0.34%|0.57%)</text></g>
<g id="SP62"><circle class="b" cx="298.9" cy="2361" r="2.92"/><circle class="r" cx="314.9" cy="2361" r="3.5"/><text x="330.4" y="2365">SP62 Haemophilus haemolyticus (0.64%|0.92%)</text></g>
<g id="SP199"><circle class="b" cx="308.2" cy="2381" r="1"/><circle class="r" cx="324.2" cy="2381" r="1"/><text x="339.7" y="2385">SP199 Haemophilus influenzae (0.05%|0.07%)</text></g>
<g id="SP74"><circle class="b" cx="293.8" cy="2401" r="3.22"/><circle class="r" cx="309.8" cy="2401" r="4.33"/><text x="325.3" y="2405">SP74 Aggregatibacter sp._HMT_458 (0.78%|1.41%)</text></g>
<g id="SP131"><circle class="b" cx="301" cy="2421" r="1.21"/><circle class="r" cx="317" cy="2421" r="2.42"/><text x="332.5" y="2425">SP131 Aggregatibacter segnis (0.11%|0.44%)</text></g>
<g id="SP85"><circle class="b" cx="302" cy="2441" r="1.93"/><circle class="r" cx="318" cy="2441" r="1.26"/><text x="333.5" y="2445">SP85 Aggregatibacter sp._HMT_513 (0.28%|0.12%)</text></g>
<g id="SP172"><circle class="b" cx="309.7" cy="2461" r="1.32"/><circle class="r" cx="325.7" cy="2461" r="1.1"/><text x="341.2" y="2465">SP172 Aggregatibacter sp._HMT_898 (0.13%|0.09%)</text></g>
<g id="SP154"><circle class="b" cx="319" cy="2481" r="1.37"/><circle class="r" cx="335" cy="2481" r="2.53"/><text x="350.5" y="2485">SP154 Aggregatibacter sp._HMT_949 (0.14%|0.48%)</text></g>
<g id="SP6"><circle class="b" cx="312.8" cy="2501" r="1.32"/><circle class="r" cx="328.8" cy="2501" r="1.46"/><text x="344.3" y="2505">SP6 Aggregatibacter aphrophilus (0.13%|0.16%)</text></g>
<g id="SP147"><circle class="b" cx="285.5" cy="2521" r="2.31"/><circle class="r" cx="301.5" cy="2521" r="2.58"/><text x="317" y="2525">SP147 Saccharibacteria_(TM7)_[G-6] bacterium_HMT_870 (0.40%|0.50%)</text></g>
<g id="SP11"><circle class="b" cx="285.5" cy="2541" r="1.93"/><circle class="r" cx="301.5" cy="2541" r="1"/><text x="317" y="2545">SP11 Saccharibacteria_(TM7)_[G-1] bacterium_HMT_346 (0.28%|0.07%)</text></g>
<g id="SP57"><circle class="b" cx="280.9" cy="2561" r="1.63"/><circle class="r" cx="296.9" cy="2561" r="1"/><text x="312.4" y="2565">SP57 Saccharibacteria_(TM7)_[G-1] bacterium_HMT_347 (0.20%|0.05%)</text></g>
<g id="SP202"><circle class="b" cx="279.8" cy="2581" r="1.03"/><circle class="r" cx="295.8" cy="2581" r="1.26"/><text x="311.3" y="2585">SP202 Saccharibacteria_(TM7)_[G-1] bacterium_HMT_957 (0.08%|0.12%)</text></g>
<g id="SP106"><circle class="b" cx="287.6" cy="2601" r="2.28"/><circle class="r" cx="303.6" cy="2601" r="2.45"/><text x="319.1" y="2605">SP106 Saccharibacteria_(TM7)_[G-1] bacterium_HMT_348 (0.39%|0.45%)</text></g>
<g id="SP111"><circle class="b" cx="334" cy="2621" r="1.79"/><circle class="r" cx="350" cy="2621" r="1.59"/><text x="365.5" y="2625">SP111 Bergeyella sp._HMT_206 (0.24%|0.19%)</text></g>
<g id="SP59"><circle class="b" cx="340.1" cy="2641" r="1.03"/><circle class="r" cx="356.1" cy="2641" r="1"/><text x="371.6" y="2645">SP59 Bergeyella sp._HMT_931 (0.08%|0.06%)</text></g>
<g id="SP58"><circle class="b" cx="350.5" cy="2661" r="2.37"/><circle class="r" cx="366.5" cy="2661" r="2.92"/><text x="382" y="2665">SP58 Bergeyella sp._HMT_322 (0.42%|0.64%)</text></g>
<g id="SP173"><circle class="b" cx="351.5" cy="2681" r="1.21"/><circle class="r" cx="367.5" cy="2681" r="1.26"/><text x="383" y="2685">SP173 Bergeyella sp._HMT_900 (0.11%|0.12%)</text></g>
<g id="SP98"><circle class="b" cx="318" cy="2701" r="1.67"/><circle class="r" cx="334" cy="2701" r="2.39"/><text x="349.5" y="2705">SP98 Capnocytophaga gingivalis (0.21%|0.43%)</text></g>
<g id="SP102"><circle class="b" cx="319" cy="2721" r="2.42"/><circle class="r" cx="335" cy="2721" r="2.45"/><text x="350.5" y="2725">SP102 Capnocytophaga granulosa (0.44%|0.45%)</text></g>
<g id="SP70"><circle class="b" cx="340.1" cy="2741" r="1"/><circle class="r" cx="356.1" cy="2741" r="1.21"/><text x="371.6" y="2745">SP70 Capnocytophaga sp._HMT_332 (0.01%|0.11%)</text></g>
<g id="SP21"><circle class="b" cx="341.2" cy="2761" r="2.45"/><circle class="r" cx="357.2" cy="2761" r="3.2"/><text x="372.7" y="2765">SP21 Capnocytophaga leadbetteri (0.45%|0.77%)</text></g>
<g id="SP92"><circle class="b" cx="339.1" cy="2781" r="2.71"/><circle class="r" cx="355.1" cy="2781" r="2.39"/><text x="370.6" y="2785">SP92 Capnocytophaga sputigena (0.55%|0.43%)</text></g>
<g id="SP194"><circle class="b" cx="340.1" cy="2801" r="1"/><circle class="r" cx="356.1" cy="2801" r="1.46"/><text x="371.6" y="2805">SP194 Capnocytophaga sp._HMT_326 (0.02%|0.16%)</text></g>
<g id="SP19"><circle class="b" cx="344.3" cy="2821" r="2.45"/><circle class="r" cx="360.3" cy="2821" r="3.63"/><text x="375.8" y="2825">SP19 Tannerella sp._HMT_286 (0.45%|0.99%)</text></g>
<g id="SP43"><circle class="b" cx="342.2" cy="2841" r="2.5"/><circle class="r" cx="358.2" cy="2841" r="2.13"/><text x="373.7" y="2845">SP43 Porphyromonas sp._HMT_930 (0.47%|0.34%)</text></g>
<g id="SP42"><circle class="b" cx="342.2" cy="2861" r="1.37"/><circle class="r" cx="358.2" cy="2861" r="2.13"/><text x="373.7" y="2865">SP42 Porphyromonas sp._Oral_Taxon_C34 (0.14%|0.34%)</text></g>
<g id="SP16"><circle class="b" cx="337.1" cy="2881" r="6.7"/><circle class="r" cx="353.1" cy="2881" r="5.03"/><text x="368.6" y="2885">SP16 Porphyromonas pasteri (3.37%|1.90%)</text></g>
<g id="SP161"><circle class="b" cx="343.2" cy="2901" r="1"/><circle class="r" cx="359.2" cy="2901" r="1.15"/><text x="374.7" y="2905">SP161 Porphyromonas sp._HMT_278 (0.06%|0.10%)</text></g>
<g id="SP175"><circle class="b" cx="352.5" cy="2921" r="1.46"/><circle class="r" cx="368.5" cy="2921" r="1"/><text x="384" y="2925">SP175 Porphyromonas sp._Oral_Taxon_B43 (0.16%|0.06%)</text></g>
<g id="SP145"><circle class="b" cx="351.5" cy="2941" r="1"/><circle class="r" cx="367.5" cy="2941" r="1"/><text x="383" y="2945">SP145 Porphyromonas sp._HMT_275 (0.05%|0.07%)</text></g>
<g id="SP167"><circle class="b" cx="359.2" cy="2961" r="1.32"/><circle class="r" cx="375.2" cy="2961" r="1"/><text x="390.7" y="2965">SP167 Porphyromonas sp._HMT_284 (0.13%|0%)</text></g>
<g id="SP72"><circle class="b" cx="362.3" cy="2981" r="2.37"/><circle class="r" cx="378.3" cy="2981" r="3.86"/><text x="393.8" y="2985">SP72 Porphyromonas catoniae (0.42%|1.12%)</text></g>
<g id="SP180"><circle class="b" cx="389.6" cy="3001" r="1.32"/><circle class="r" cx="405.6" cy="3001" r="1"/><text x="421.1" y="3005">SP180 Alloprevotella tannerae (0.13%|0.02%)</text></g>
<g id="SP114"><circle class="b" cx="385.5" cy="3021" r="1.15"/><circle class="r" cx="401.5" cy="3021" r="1.97"/><text x="417" y="3025">SP114 Alloprevotella sp._HMT_912 (0.10%|0.29%)</text></g>
<g id="SP64"><circle class="b" cx="385.5" cy="3041" r="2.06"/><circle class="r" cx="401.5" cy="3041" r="1.9"/><text x="417" y="3045">SP64 Alloprevotella sp._HMT_913 (0.32%|0.27%)</text></g>
<g id="SP28"><circle class="b" cx="389.6" cy="3061" r="5.21"/><circle class="r" cx="405.6" cy="3061" r="4.9"/><text x="421.1" y="3065">SP28 Alloprevotella sp._HMT_473 (2.04%|1.80%)</text></g>
<g id="SP41"><circle class="b" cx="384" cy="3081" r="2.31"/><circle class="r" cx="400" cy="3081" r="2.48"/><text x="415.5" y="3085">SP41 Alloprevotella sp._HMT_914 (0.40%|0.46%)</text></g>
<g id="SP176"><circle class="b" cx="389.6" cy="3101" r="1.71"/><circle class="r" cx="405.6" cy="3101" r="1.46"/><text x="421.1" y="3105">SP176 Alloprevotella sp._HMT_308 (0.22%|0.16%)</text></g>
<g id="SP149"><circle class="b" cx="375.7" cy="3121" r="1"/><circle class="r" cx="391.7" cy="3121" r="1.71"/><text x="407.2" y="3125">SP149 Prevotella micans (0.02%|0.22%)</text></g>
<g id="SP15"><circle class="b" cx="392.7" cy="3141" r="1.71"/><circle class="r" cx="408.7" cy="3141" r="2.8"/><text x="424.2" y="3145">SP15 Prevotella loescheii (0.22%|0.59%)</text></g>
<g id="SP29"><circle class="b" cx="389.6" cy="3161" r="3.46"/><circle class="r" cx="405.6" cy="3161" r="3.54"/><text x="421.1" y="3165">SP29 Prevotella sp._HMT_317 (0.90%|0.94%)</text></g>
<g id="SP69"><circle class="b" cx="389.6" cy="3181" r="1"/><circle class="r" cx="405.6" cy="3181" r="1.03"/><text x="421.1" y="3185">SP69 Prevotella sp._HMT_942 (0.06%|0.08%)</text></g>
<g id="SP215"><circle class="b" cx="390.7" cy="3201" r="1.1"/><circle class="r" cx="406.7" cy="3201" r="1.1"/><text x="422.2" y="3205">SP215 Prevotella sp._Oral_Taxon_299 (0.09%|0.09%)</text></g>
<g id="SP166"><circle class="b" cx="389.6" cy="3221" r="1.15"/><circle class="r" cx="405.6" cy="3221" r="1.86"/><text x="421.1" y="3225">SP166 Prevotella nanceiensis (0.10%|0.26%)</text></g>
<g id="SP2"><circle class="b" cx="375.7" cy="3241" r="2.28"/><circle class="r" cx="391.7" cy="3241" r="1"/><text x="407.2" y="3245">SP2 Prevotella oulorum (0.39%|0.02%)</text></g>
<g id="SP94"><circle class="b" cx="398.9" cy="3261" r="1.15"/><circle class="r" cx="414.9" cy="3261" r="1.75"/><text x="430.4" y="3265">SP94 Prevotella oris (0.10%|0.23%)</text></g>
<g id="SP99"><circle class="b" cx="385.5" cy="3281" r="2.58"/><circle class="r" cx="401.5" cy="3281" r="1"/><text x="417" y="3285">SP99 Prevotella salivae (0.50%|0%)</text></g>
<g id="SP115"><circle class="b" cx="396.9" cy="3301" r="1.97"/><circle class="r" cx="412.9" cy="3301" r="1.37"/><text x="428.4" y="3305">SP115 Prevotella pallens (0.29%|0.14%)</text></g>
<g id="SP216"><circle class="b" cx="408.2" cy="3321" r="1.03"/><circle class="r" cx="424.2" cy="3321" r="1"/><text x="439.7" y="3325">SP216 Prevotella denticola (0.08%|0%)</text></g>
<g id="SP113"><circle class="b" cx="382.9" cy="3341" r="1.59"/><circle class="r" cx="398.9" cy="3341" r="1"/><text x="414.4" y="3345">SP113 Prevotella jejuni (0.19%|0%)</text></g>
<g id="SP80"><circle class="b" cx="385.5" cy="3361" r="2.76"/><circle class="r" cx="401.5" cy="3361" r="1"/><text x="417" y="3365">SP80 Prevotella sp._HMT_314 (0.57%|0.04%)</text></g>
<g id="SP46"><circle class="b" cx="388.6" cy="3381" r="5.21"/><circle class="r" cx="404.6" cy="3381" r="4.1"/><text x="420.1" y="3385">SP46 Prevotella melaninogenica (2.04%|1.26%)</text></g>
<g id="SP83"><circle class="b" cx="389.6" cy="3401" r="2.73"/><circle class="r" cx="405.6" cy="3401" r="1.41"/><text x="421.1" y="3405">SP83 Prevotella histicola (0.56%|0.15%)</text></g>
<g id="SP97"><circle class="b" cx="393.8" cy="3421" r="1.41"/><circle class="r" cx="409.8" cy="3421" r="1"/><text x="425.3" y="3425">SP97 Prevotella veroralis (0.15%|0%)</text></g>
<g id="SP47"><circle class="b" cx="394.8" cy="3441" r="1.67"/><circle class="r" cx="410.8" cy="3441" r="1"/><text x="426.3" y="3445">SP47 Prevotella sp._HMT_306 (0.21%|0.02%)</text></g>
</g>
<g id="legend">
<circle class="b" cx="12.9" cy="3420" r="5.5"/><text class="lg" x="24.7" y="3424">SECC</text>
<circle class="r" cx="12.9" cy="3440" r="5.5"/><text class="lg" x="24.7" y="3444">CF</text>
</g>
<g id="scale">
<text class="sc" x="10.3" y="3467" font-size="15">substitutions/site</text>
<g class="sc" font-size="12" text-anchor="end">
<text class="sc" x="12.3" y="3481">0</text><text class="sc" x="64.2" y="3481">0.1</text><text class="sc" x="116.1" y="3481">0.2</text><text class="sc" x="168" y="3481">0.3</text><text class="sc" x="219.9" y="3481">0.4</text><text class="sc" x="271.8" y="3481">0.5</text><text class="sc" x="323.7" y="3481">0.6</text><text class="sc" x="375.6" y="3481">0.7</text>
</g>
<path fill="none" stroke="#000" stroke-width="1" d="M10.3 3489H393M10.3 3483V3489M62.2 3483V3489M114.1 3483V3489M166 3483V3489M217.9 3483V3489M269.8 3483V3489M321.7 3483V3489M373.6 3483V3489"/>
</g>
</svg>
